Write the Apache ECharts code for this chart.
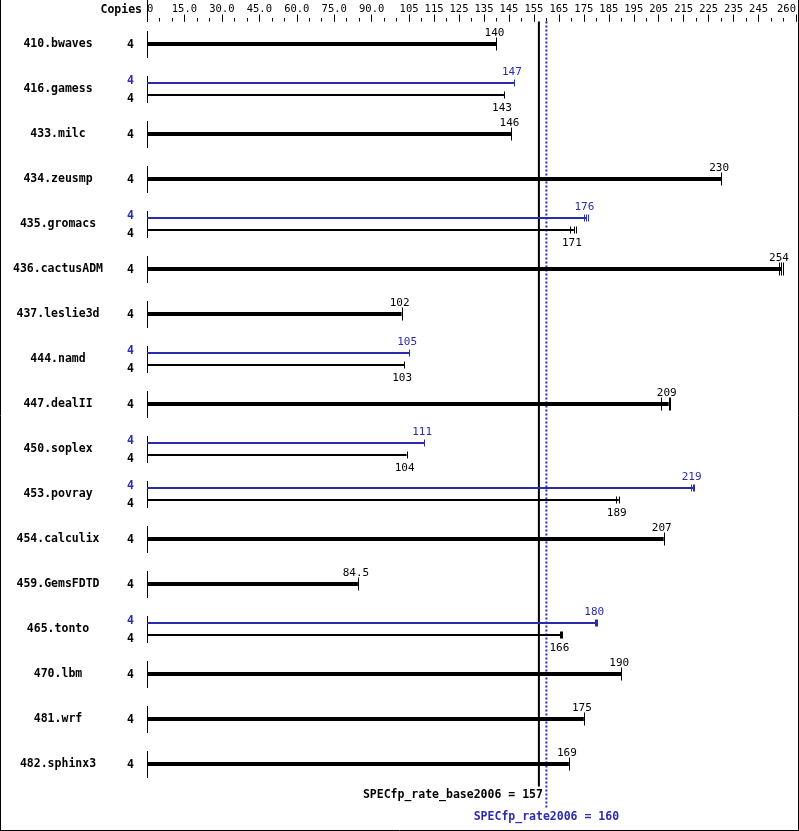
<!DOCTYPE html>
<html><head><meta charset="utf-8">
<script src="https://cdn.jsdelivr.net/npm/echarts@6/dist/echarts.min.js"></script>
<style>html,body{margin:0;padding:0;background:#fff}#c{width:799px;height:831px}</style>
</head><body><div id="c"></div>
<script>
const benchmarks = ['410.bwaves','416.gamess','433.milc','434.zeusmp','435.gromacs','436.cactusADM','437.leslie3d','444.namd','447.dealII','450.soplex','453.povray','454.calculix','459.GemsFDTD','465.tonto','470.lbm','481.wrf','482.sphinx3'];
const copiesBase = [4,4,4,4,4,4,4,4,4,4,4,4,4,4,4,4,4];
const copiesPeak = [null,4,null,null,4,null,null,4,null,4,4,null,null,4,null,null,null];
const baseValues = [140,143,146,230,171,254,102,103,209,104,189,207,84.5,166,190,175,169];
const peakValues = [null,147,null,null,176,null,null,105,null,111,219,null,null,180,null,null,null];
const baseRuns = [[140],[143],[146],[230],[169.5,171,172],[253.3,254,254.6],[102],[103],[206,209,209.6],[104],[188,189],[207],[84.5],[165.6,166,166.4],[190],[175],[169]];
const peakRuns = [null,[147],null,null,[175,176,176.5],null,null,[105],null,[111],[218,218.6,219.2],null,null,[179.6,180,180.4],null,null,null];
const majorTicks = [0,15,30,45,60,75,90,105,115,125,135,145,155,165,175,185,195,205,215,225,235,245,260];
const specBase = 157;
const specPeak = 160;
const labelBase = 'SPECfp_rate_base2006 = ' + specBase;
const labelPeak = 'SPECfp_rate2006 = ' + specPeak;

const BLUE = '#2b2bae';
const MONO = '"DejaVu Sans Mono", "Liberation Mono", monospace';

function renderResult(isPeak) {
  return function (params, api) {
    const i = api.value(1);
    const v = api.value(0);
    const runs = (isPeak ? peakRuns : baseRuns)[i];
    const dual = peakValues[i] != null;
    const p0 = api.coord([0, i]);
    const x0 = p0[0], yc = p0[1];
    const x1 = api.coord([v, i])[0];
    const color = isPeak ? BLUE : '#000';
    let y, lw, th;
    if (!dual) { y = yc; lw = 4; th = 13; }
    else if (isPeak) { y = yc - 6; lw = 2; th = 7; }
    else { y = yc + 6; lw = 2; th = 7; }
    const children = [{
      type: 'line', shape: { x1: x0, y1: y, x2: x1, y2: y },
      style: { stroke: color, lineWidth: lw }
    }];
    runs.forEach(function (r) {
      const xr = Math.round(api.coord([r, i])[0]) + 0.5;
      children.push({ type: 'line', shape: { x1: xr, y1: y - th / 2, x2: xr, y2: y + th / 2 },
        style: { stroke: color, lineWidth: 1 } });
    });
    const below = dual && !isPeak;
    children.push({
      type: 'text', x: x1 - 2, y: below ? y + 8 : y - 5,
      style: { text: String(v), fill: color, font: '11px ' + MONO, align: 'center',
        verticalAlign: below ? 'top' : 'bottom' }
    });
    return { type: 'group', children: children };
  };
}

function renderRowFrame(params, api) {
  const i = api.value(1);
  const p0 = api.coord([0, i]);
  const x0 = Math.round(p0[0]) + 0.5, yc = p0[1];
  const children = [{ type: 'line', shape: { x1: x0, y1: yc - 13, x2: x0, y2: yc + 14 },
    style: { stroke: '#000', lineWidth: 1 } }];
  const font = 'bold 11.5px ' + MONO;
  if (copiesPeak[i] != null) {
    children.push({ type: 'text', x: x0 - 17, y: yc - 8, style: { text: String(copiesPeak[i]), fill: BLUE, font: font, align: 'center', verticalAlign: 'middle' } });
    children.push({ type: 'text', x: x0 - 17, y: yc + 10, style: { text: String(copiesBase[i]), fill: '#000', font: font, align: 'center', verticalAlign: 'middle' } });
  } else {
    children.push({ type: 'text', x: x0 - 17, y: yc + 1, style: { text: String(copiesBase[i]), fill: '#000', font: font, align: 'center', verticalAlign: 'middle' } });
  }
  return { type: 'group', children: children };
}

function renderRef(isPeak) {
  return function (params, api) {
    const v = api.value(0);
    const cs = params.coordSys;
    const x = api.coord([v, 0])[0];
    const top = cs.y;
    const bottom = cs.y + cs.height;
    if (!isPeak) {
      return { type: 'group', children: [
        { type: 'line', shape: { x1: x, y1: top, x2: x, y2: bottom }, style: { stroke: '#000', lineWidth: 2 } },
        { type: 'text', x: x + 4, y: bottom + 9, style: { text: labelBase, fill: '#000', font: 'bold 11.5px ' + MONO, align: 'right', verticalAlign: 'middle' } }
      ] };
    }
    return { type: 'group', children: [
      { type: 'line', shape: { x1: x, y1: top, x2: x, y2: bottom + 21 }, style: { stroke: BLUE, lineWidth: 2, lineDash: [2, 2] } },
      { type: 'text', x: x, y: bottom + 31, style: { text: labelPeak, fill: BLUE, font: 'bold 11.5px ' + MONO, align: 'center', verticalAlign: 'middle' } }
    ] };
  };
}

const chart = echarts.init(document.getElementById('c'), null, { renderer: 'canvas' });
chart.setOption({
  animation: false,
  backgroundColor: '#fff',
  grid: { left: 147, right: 2, top: 21.5, height: 765 },
  xAxis: [{
    type: 'value', position: 'top', min: 0, max: 260,
    axisLine: { show: false }, splitLine: { show: false },
    axisTick: { show: true, customValues: majorTicks, length: 7, lineStyle: { color: '#000', width: 1 } },
    axisLabel: { customValues: majorTicks, color: '#000', fontFamily: MONO, fontSize: 10.5, margin: 7,
      alignMinLabel: 'left', alignMaxLabel: 'right',
      formatter: function (v) { return (v > 0 && v < 100) ? v.toFixed(1) : String(v); } }
  }, {
    type: 'value', position: 'top', min: 0, max: 260, interval: 5,
    axisLine: { show: false }, splitLine: { show: false },
    axisTick: { show: true, length: 3.5, lineStyle: { color: '#000', width: 1 } },
    axisLabel: { show: false }
  }],
  yAxis: {
    type: 'category', inverse: true, data: benchmarks,
    axisLine: { show: false }, axisTick: { show: false }, splitLine: { show: false },
    axisLabel: { align: 'center', margin: 89, color: '#000', fontFamily: MONO, fontWeight: 'bold', fontSize: 11.5 }
  },
  graphic: [
    { type: 'text', x: 142, y: 10, style: { text: 'Copies', fill: '#000', font: 'bold 11.5px ' + MONO, align: 'right', verticalAlign: 'middle' } },
    { type: 'line', shape: { x1: 147.5, y1: 0, x2: 147.5, y2: 22 }, style: { stroke: '#000', lineWidth: 1 } },
    { type: 'line', shape: { x1: 0.5, y1: 0, x2: 0.5, y2: 831 }, style: { stroke: '#000', lineWidth: 1 } },
    { type: 'line', shape: { x1: 798.5, y1: 0, x2: 798.5, y2: 831 }, style: { stroke: '#000', lineWidth: 1 } },
    { type: 'line', shape: { x1: 0, y1: 830.5, x2: 799, y2: 830.5 }, style: { stroke: '#000', lineWidth: 1 } }
  ],
  series: [
    { type: 'custom', name: 'base ref', xAxisIndex: 0, renderItem: renderRef(false), data: [[specBase, 0]], z: 1, silent: true },
    { type: 'custom', name: 'peak ref', xAxisIndex: 0, renderItem: renderRef(true), data: [[specPeak, 0]], z: 1, silent: true },
    { type: 'custom', name: 'rows', xAxisIndex: 0, renderItem: renderRowFrame, data: benchmarks.map(function (b, i) { return [0, i]; }), z: 2, silent: true },
    { type: 'custom', name: 'base', xAxisIndex: 0, renderItem: renderResult(false), data: baseValues.map(function (v, i) { return [v, i]; }), z: 3, silent: true },
    { type: 'custom', name: 'peak', xAxisIndex: 0, renderItem: renderResult(true),
      data: peakValues.map(function (v, i) { return v == null ? null : [v, i]; }).filter(function (d) { return d; }), z: 4, silent: true }
  ]
});
</script></body></html>
